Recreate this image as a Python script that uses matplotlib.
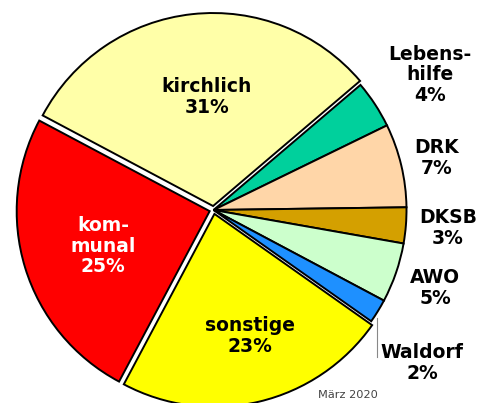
import matplotlib
matplotlib.use("Agg")
import matplotlib.pyplot as plt
import numpy as np

categories = ["kirchlich", "Lebenshilfe", "DRK", "DKSB", "AWO", "Waldorf", "sonstige", "kommunal"]
shares = [31, 4, 7, 3, 5, 2, 23, 25]
label_texts = ["kirchlich\n31%", "Lebens-\nhilfe\n4%", "DRK\n7%", "DKSB\n3%", "AWO\n5%",
               "Waldorf\n2%", "sonstige\n23%", "kom-\nmunal\n25%"]

colors = ["#FFFFA8", "#00D09C", "#FFD6A8", "#D4A000", "#CCFFCC", "#1E90FF", "#FFFF00", "#FF0000"]
# offsets in pixels (pie explode is in data units here)
explode = [4, 0, 0, 0, 0, 0, 4, 4]

W, H = 485, 403
fig = plt.figure(figsize=(W / 100, H / 100), dpi=100)
ax = fig.add_axes([0, 0, 1, 1])

cx, cy, R = 213.5, H - 210, 193
wedges, _ = ax.pie(shares, colors=colors, explode=explode, startangle=152.0,
                   counterclock=False, center=(cx, cy), radius=R, frame=True,
                   wedgeprops=dict(edgecolor="black", linewidth=1.4))
ax.set_xlim(0, W)
ax.set_ylim(0, H)
ax.set_aspect("equal")
ax.axis("off")

# label positions in pixel coordinates (x, y from top)
pos = {
    "kirchlich": (207, 97),
    "Lebenshilfe": (430, 75),
    "DRK": (437, 158),
    "DKSB": (448, 228),
    "AWO": (435, 288),
    "Waldorf": (422, 363),
    "sonstige": (250, 336),
    "kommunal": (103, 246),
}
for cat, txt in zip(categories, label_texts):
    x, y = pos[cat]
    col = "white" if cat == "kommunal" else "black"
    ax.text(x, H - y, txt, ha="center", va="center", fontsize=13.5,
            fontweight="heavy", color=col, linespacing=1.12, family="DejaVu Sans")

ax.plot([377, 377], [H - 318, H - 357], color="#888888", linewidth=0.8)
ax.text(348, H - 395, "März 2020", ha="center", va="center", fontsize=8.2,
        color="#444444", family="DejaVu Sans")

fig.savefig("out.png", dpi=100)
